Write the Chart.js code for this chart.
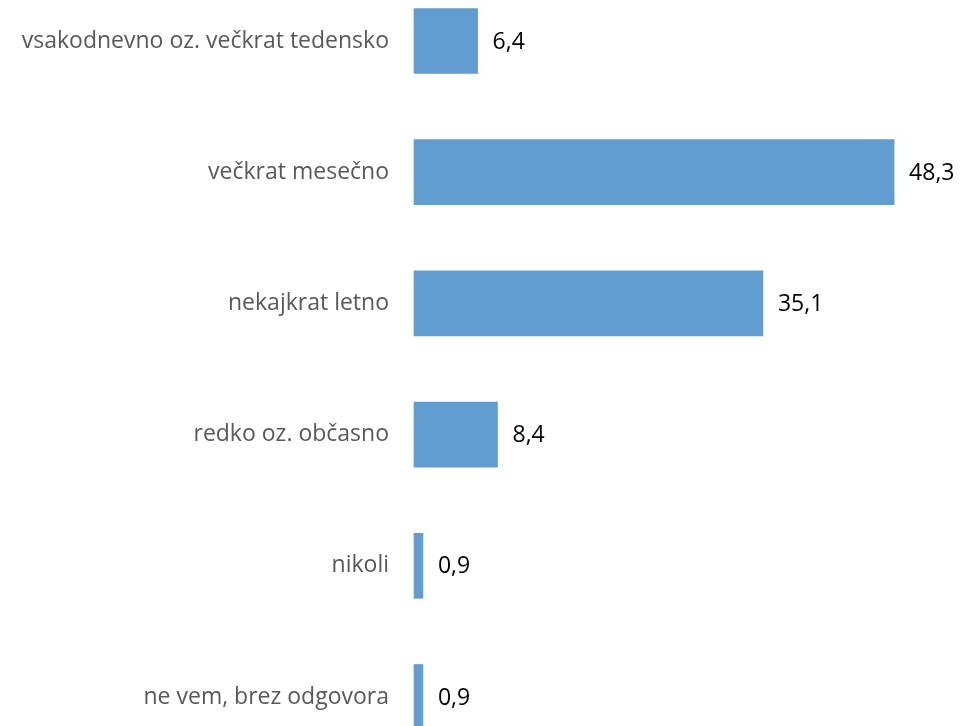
<!DOCTYPE html>
<html>
<head>
<meta charset="utf-8">
<script src="https://cdn.jsdelivr.net/npm/chart.js@4/dist/chart.umd.min.js"></script>
<style>
    html, body { margin: 0; padding: 0; background: #fff; }
    #wrap { width: 961px; height: 726px; }
</style>
</head>
<body>
<div id="wrap"><canvas id="freqChart"></canvas></div>
<script>
var categories = ['vsakodnevno oz. večkrat tedensko', 'večkrat mesečno', 'nekajkrat letno', 'redko oz. občasno', 'nikoli', 'ne vem, brez odgovora'];
var shares = [6.4, 48.3, 35.1, 8.4, 0.9, 0.9];
var axisMax = 50;

// value labels at the end of each bar, with decimal comma
var barValueLabels = {
    id: 'barValueLabels',
    afterDatasetsDraw: function(chart) {
        var ctx = chart.ctx;
        var meta = chart.getDatasetMeta(0);
        ctx.save();
        ctx.font = '23px "Open Sans", sans-serif';
        ctx.fillStyle = '#000000';
        ctx.textAlign = 'left';
        ctx.textBaseline = 'middle';
        meta.data.forEach(function(bar, i) {
            var txt = shares[i].toFixed(1).replace('.', ',');
            ctx.fillText(txt, bar.x + 15, bar.y + 1);
        });
        ctx.restore();
    }
};

var ctx = document.getElementById('freqChart').getContext('2d');
var freqChart = new Chart(ctx, {
    type: 'bar',
    data: {
        labels: categories,
        datasets: [{
            data: shares,
            backgroundColor: '#619dd1',
            borderWidth: 0,
            barThickness: 65,
            clip: false
        }]
    },
    options: {
        indexAxis: 'y',
        responsive: true,
        maintainAspectRatio: false,
        animation: false,
        layout: {
            padding: { top: 41, bottom: 29, left: 0, right: 50 }
        },
        plugins: {
            legend: { display: false },
            tooltip: { enabled: false }
        },
        scales: {
            x: {
                display: false,
                min: 0,
                max: axisMax
            },
            y: {
                offset: false,
                grid: { display: false, drawTicks: false, offset: false },
                border: { display: false },
                ticks: {
                    color: '#595959',
                    padding: 25,
                    font: { family: '"Open Sans", sans-serif', size: 23 }
                },
                afterFit: function(scale) {
                    scale.width = 414;
                    // tick padding should not push the plot area vertically
                    scale.paddingTop = 0;
                    scale.paddingBottom = 0;
                }
            }
        }
    },
    plugins: [barValueLabels]
});
</script>
</body>
</html>
